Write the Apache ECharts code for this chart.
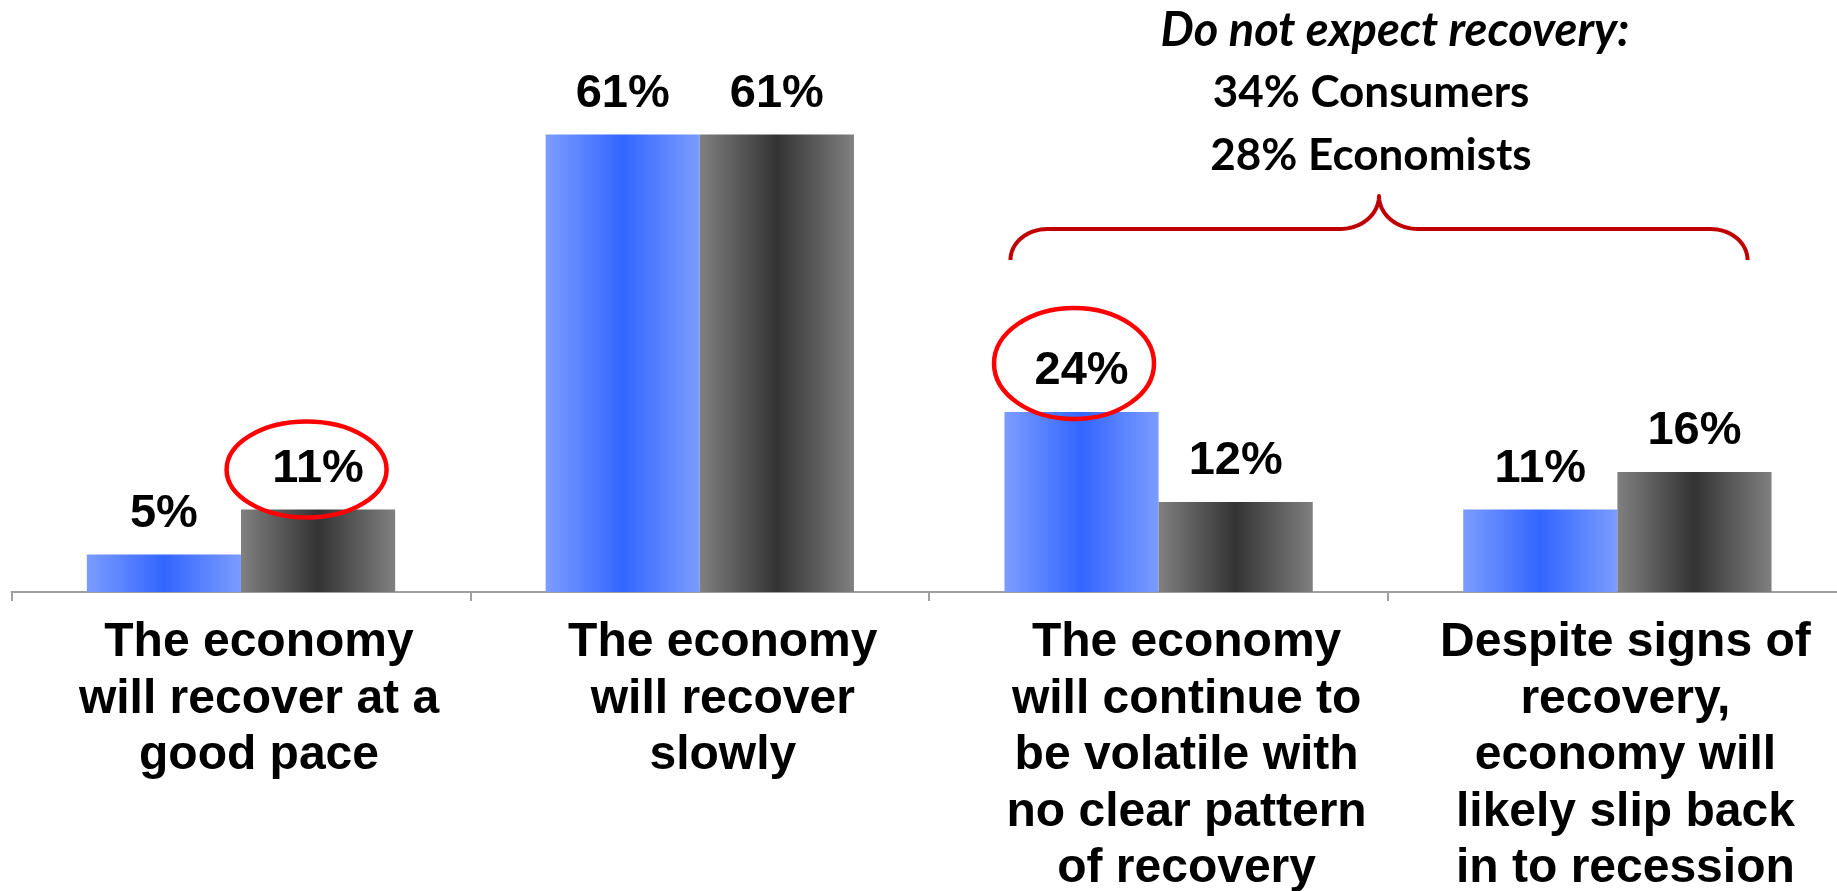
<!DOCTYPE html>
<html>
<head>
<meta charset="utf-8">
<script src="https://cdn.jsdelivr.net/npm/echarts@6/dist/echarts.min.js"></script>
<style>
  html, body { margin: 0; padding: 0; background: #ffffff; }
  #chart { width: 1837px; height: 891px; }
</style>
</head>
<body>
<div id="chart"></div>
<script>
// Survey answers: expectations for the economic recovery
const categories = [
  'The economy\nwill recover at a\ngood pace',
  'The economy\nwill recover\nslowly',
  'The economy\nwill continue to\nbe volatile with\nno clear pattern\nof recovery',
  'Despite signs of\nrecovery,\neconomy will\nlikely slip back\nin to recession'
];
const seriesNames = ['Consumers', 'Economists'];
const consumers = [5, 61, 24, 11];
const economists = [11, 61, 12, 16];

// Callout above the last two groups
const calloutTitle = 'Do not expect recovery:';
const calloutLines = ['34% Consumers', '28% Economists'];

// Value labels singled out with a red ring: [seriesIndex, dataIndex]
const ringedBars = [[1, 0], [0, 2]];

// Horizontal nudge of each category label (px, to the right)
const labelShift = [18, 23, 28, 8];

const LABEL_FONT = '"Liberation Sans", Arial, Helvetica, sans-serif';
const CALLOUT_FONT = 'Lato, "Open Sans", sans-serif';

function barGradient(edge, mid) {
  return new echarts.graphic.LinearGradient(0, 0, 1, 0, [
    { offset: 0, color: edge },
    { offset: 0.5, color: mid },
    { offset: 1, color: edge }
  ]);
}

const valueLabel = {
  show: true,
  position: 'top',
  distance: 17,
  formatter: '{c}%',
  fontFamily: LABEL_FONT,
  fontWeight: 'bold',
  fontSize: 47,
  color: '#000000'
};

const axisCategories = categories.map((name, i) => ({
  value: name,
  textStyle: { padding: [0, 0, 0, 2 * labelShift[i]] }
}));

const chart = echarts.init(document.getElementById('chart'), null, { renderer: 'canvas' });

chart.setOption({
  animation: false,
  backgroundColor: '#ffffff',
  grid: {
    left: 11.6, width: 1835.2, top: 67, bottom: 299,
    containLabel: false,
    outerBoundsMode: 'none'
  },
  xAxis: {
    type: 'category',
    data: axisCategories,
    axisLine: { lineStyle: { color: '#a0a0a0', width: 2 } },
    axisTick: { show: true, length: 9, lineStyle: { color: '#a0a0a0', width: 2 } },
    axisLabel: {
      interval: 0,
      margin: 23,
      fontFamily: LABEL_FONT,
      fontWeight: 'bold',
      fontSize: 48,
      lineHeight: 56.5,
      color: '#000000'
    }
  },
  yAxis: { type: 'value', min: 0, max: 70, show: false },
  series: [
    {
      name: seriesNames[0],
      type: 'bar',
      data: consumers,
      barGap: '0%',
      barCategoryGap: '32.8%',
      itemStyle: { color: barGradient('#7b9cff', '#3366ff') },
      label: valueLabel
    },
    {
      name: seriesNames[1],
      type: 'bar',
      data: economists,
      barGap: '0%',
      barCategoryGap: '32.8%',
      itemStyle: { color: barGradient('#808080', '#333333') },
      label: valueLabel
    }
  ]
});

// Pixel rectangle of a laid-out bar
function barRect(seriesIndex, dataIndex) {
  const l = chart.getModel().getSeriesByIndex(seriesIndex).getData().getItemLayout(dataIndex);
  return {
    left: Math.min(l.x, l.x + l.width),
    right: Math.max(l.x, l.x + l.width),
    top: Math.min(l.y, l.y + l.height),
    cx: l.x + l.width / 2
  };
}

// Elliptic arc sampled into points
function arc(cx, cy, rx, ry, a0, a1, steps) {
  const pts = [];
  for (let i = 0; i <= steps; i++) {
    const a = a0 + (a1 - a0) * i / steps;
    pts.push([cx + rx * Math.cos(a), cy + ry * Math.sin(a)]);
  }
  return pts;
}

const graphics = [];

// Red rings around the highlighted value labels
const ringShapes = [
  { dx: -11.5, dy: -40, rx: 80, ry: 48 },
  { dx: -7.5, dy: -48.5, rx: 80, ry: 55.5 }
];
ringedBars.forEach(([s, i], k) => {
  const r = barRect(s, i);
  const g = ringShapes[k];
  graphics.push({
    type: 'ellipse',
    z: 100,
    shape: { cx: r.cx + g.dx, cy: r.top + g.dy, rx: g.rx, ry: g.ry },
    style: { fill: 'none', stroke: '#ff0000', lineWidth: 4.5 }
  });
});

// Curly brace spanning the last two groups
const leftBar = barRect(0, 2);
const rightBar = barRect(1, 3);
const bx0 = leftBar.left + 6;
const bx1 = rightBar.right - 24;
const tipX = (bx0 + bx1) / 2;
const yEnd = 260, yMid = 229, yTip = 196;
const crx = 37, cry = yEnd - yMid;
const trx = 39, tr_y = yMid - yTip;
const H = Math.PI;
let brace = [];
brace = brace.concat(arc(bx0 + crx, yEnd, crx, cry, H, 1.5 * H, 16));
brace = brace.concat(arc(tipX - trx, yTip, trx, tr_y, 0.5 * H, 0, 16));
brace = brace.concat(arc(tipX + trx, yTip, trx, tr_y, H, 0.5 * H, 16));
brace = brace.concat(arc(bx1 - crx, yEnd, crx, cry, 1.5 * H, 2 * H, 16));
graphics.push({
  type: 'polyline',
  z: 100,
  shape: { points: brace },
  style: { fill: 'none', stroke: '#c00000', lineWidth: 4, lineJoin: 'round' }
});

// Callout text above the brace
graphics.push({
  type: 'text',
  z: 100,
  style: {
    text: calloutTitle,
    x: tipX + 16, y: 31,
    align: 'center', verticalAlign: 'middle',
    font: 'italic bold 47px ' + CALLOUT_FONT,
    fill: '#000000'
  }
});
calloutLines.forEach((t, k) => {
  graphics.push({
    type: 'text',
    z: 100,
    style: {
      text: t,
      x: tipX - 8, y: 93 + k * 63,
      align: 'center', verticalAlign: 'middle',
      font: 'bold 44px ' + CALLOUT_FONT,
      fill: '#000000'
    }
  });
});

chart.setOption({ graphic: graphics });
</script>
</body>
</html>
